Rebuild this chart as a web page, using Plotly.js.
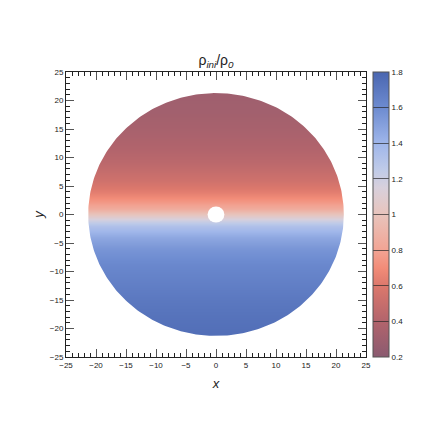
<!DOCTYPE html>
<html>
<head>
<meta charset="utf-8">
<script src="https://cdn.plot.ly/plotly-3.0.1.min.js"></script>
<style>
  html, body { margin: 0; padding: 0; background: #fff; }
  #plot { width: 432px; height: 432px; }
</style>
</head>
<body>
<div id="plot"></div>
<script>
// density profile rho_ini/rho_0 against height y
const profY   = [-22, -18, -15, -12, -9, -6, -4, -3, -2, -1, 0, 1, 2, 3, 4, 6, 9, 12, 15, 18, 22];
const profRho = [1.76, 1.73, 1.70, 1.66, 1.62, 1.55, 1.47, 1.40, 1.32, 1.20, 1.02, 0.85, 0.76, 0.70, 0.63, 0.54, 0.45, 0.39, 0.35, 0.32, 0.30];

const diskR = 21.3;   // outer radius of the domain
const holeR = 1.4;    // inner hole

const axisTicks = [-25, -20, -15, -10, -5, 0, 5, 10, 15, 20, 25];
const cbTicks = [0.2, 0.4, 0.6, 0.8, 1.0, 1.2, 1.4, 1.6, 1.8];
const cbText  = ['0.2', '0.4', '0.6', '0.8', '1', '1.2', '1.4', '1.6', '1.8'];

// smooth field: each row holds the profile value, plotly does the smoothing
const field = {
  type: 'heatmap',
  x: [-22, 22],
  y: profY,
  z: profRho.map(v => [v, v]),
  zsmooth: 'best',
  zmin: 0.2, zmax: 1.8,
  colorscale: [
    [0.000, '#8a5a70'],
    [0.125, '#b2646c'],
    [0.250, '#dc786c'],
    [0.3125, '#f28c78'],
    [0.375, '#f2a494'],
    [0.500, '#e8c4bc'],
    [0.594, '#d8d0dc'],
    [0.656, '#c0cbe8'],
    [0.750, '#9fb6ea'],
    [0.875, '#6d8bd0'],
    [1.000, '#4a66b0']
  ],
  colorbar: {
    x: 1.023, xanchor: 'left', xpad: 0,
    y: 0.5, yanchor: 'middle', ypad: 0,
    len: 1, lenmode: 'fraction',
    thickness: 16,
    outlinewidth: 1, outlinecolor: '#555',
    tickmode: 'array', tickvals: cbTicks, ticktext: cbText,
    ticks: 'inside', ticklen: 16, tickcolor: 'rgba(40,40,40,0.7)', tickwidth: 1,
    tickfont: { size: 8, color: '#222' }
  },
  hoverinfo: 'skip'
};

// white mask outside the disk (circle clockwise, box counter-clockwise)
const mx = [], my = [];
for (let i = 0; i <= 360; i++) {
  const a = -i * Math.PI / 180;
  mx.push(diskR * Math.cos(a)); my.push(diskR * Math.sin(a));
}
mx.push(27, 27, -27, -27, 27, 27);
my.push(0, 27, 27, -27, -27, 0);

const mask = {
  type: 'scatter', mode: 'lines',
  x: mx, y: my,
  fill: 'toself', fillcolor: '#ffffff',
  line: { width: 0, color: 'rgba(0,0,0,0)' },
  hoverinfo: 'skip', showlegend: false
};

const axisBase = {
  range: [-25, 25],
  tickmode: 'array', tickvals: axisTicks,
  ticks: 'inside', ticklen: 8, tickwidth: 1, tickcolor: '#555',
  minor: { dtick: 1, tick0: 0, ticks: 'inside', ticklen: 4, tickcolor: '#222', tickwidth: 1 },
  showline: true, linecolor: '#222', linewidth: 1,
  mirror: 'ticks',
  showgrid: false, zeroline: false,
  tickfont: { size: 8, color: '#222' }
};

const layout = {
  width: 432, height: 432,
  margin: { l: 66, r: 66, t: 72, b: 75 },
  paper_bgcolor: '#fff', plot_bgcolor: '#fff',
  font: { family: '"Liberation Sans", Arial, sans-serif', color: '#222' },
  title: {
    text: 'ρ<sub><i>ini</i></sub>/ρ<sub><i>0</i></sub>',
    font: { size: 14 },
    xref: 'paper', x: 0.5, xanchor: 'center',
    yref: 'paper', y: 1, yanchor: 'bottom',
    pad: { b: 7 }
  },
  xaxis: Object.assign({}, axisBase, {
    title: { text: '<i>x</i>', font: { size: 13 }, standoff: 10 }
  }),
  yaxis: Object.assign({}, axisBase, {
    title: { text: '<i>y</i>', font: { size: 13 }, standoff: 3 }
  }),
  shapes: [
    { type: 'circle', xref: 'x', yref: 'y', x0: -holeR, x1: holeR, y0: -holeR, y1: holeR,
      fillcolor: '#ffffff', line: { width: 0 }, layer: 'above' }
  ],
  showlegend: false
};

Plotly.newPlot('plot', [field, mask], layout, { displayModeBar: false, staticPlot: true });
</script>
</body>
</html>
